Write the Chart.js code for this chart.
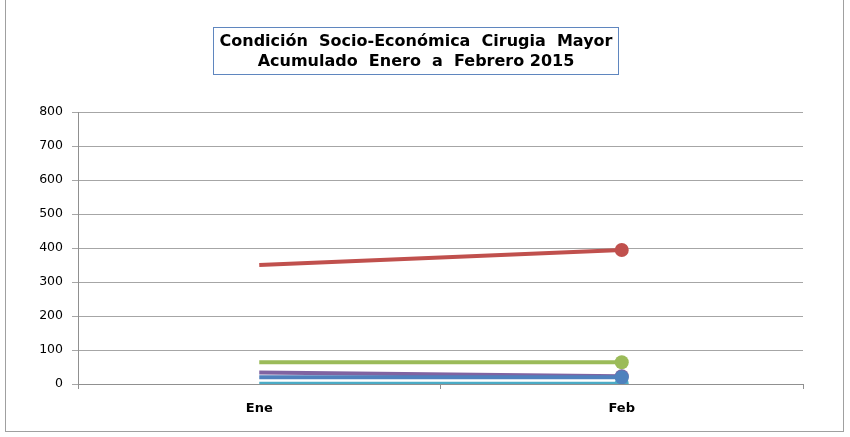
<!DOCTYPE html>
<html><head><meta charset="utf-8">
<script src="https://cdn.jsdelivr.net/npm/chart.js@4/dist/chart.umd.min.js"></script>
<style>
html,body{margin:0;padding:0;background:#fff;}
#wrap{position:relative;width:850px;height:437px;}
#frame{position:absolute;left:5px;top:-1px;width:839px;height:433px;border:1px solid #a0a0a0;box-sizing:border-box;pointer-events:none;}
#ttl{position:absolute;left:213px;top:27px;width:406px;height:48px;box-sizing:border-box;border:1px solid #5f86bf;
 font-family:"DejaVu Sans",Verdana,sans-serif;font-weight:bold;font-size:16px;line-height:20px;text-align:center;color:#000;padding-top:3px;white-space:pre;}
</style></head>
<body>
<div id="wrap">
<canvas id="c" width="850" height="437"></canvas>
<div id="frame"></div>
<div id="ttl">Condición  Socio-Económica  Cirugia  Mayor
Acumulado  Enero  a  Febrero 2015</div>
</div>
<script>
const categories = ["Ene", "Feb"];
const seriesBlue = [20, 20];
const seriesRed = [350, 394];
const seriesGreen = [64, 64];
const seriesPurple = [34, 23];
const seriesCyan = [1, 1];
const yTicks = [0, 100, 200, 300, 400, 500, 600, 700, 800];

function ds(data, color, order) {
  return {data: data, borderColor: color, backgroundColor: color, borderWidth: 4,
    pointRadius: [0, 7], pointHoverRadius: [0, 7], pointBorderWidth: 0, tension: 0, order: order};
}
new Chart(document.getElementById('c'), {
  type: 'line',
  data: {labels: categories, datasets: [
    ds(seriesCyan, '#4BACC6', 5),
    ds(seriesBlue, '#4F81BD', 1),
    ds(seriesPurple, '#8064A2', 2),
    ds(seriesGreen, '#9BBB59', 3),
    ds(seriesRed, '#C0504D', 4)
  ]},
  options: {
    responsive: false, animation: false,
    layout: {padding: {top: 112, right: 47, left: 0, bottom: 0}},
    plugins: {legend: {display: false}, title: {display: false}, tooltip: {enabled: false}},
    scales: {
      x: {offset: true,
        grid: {drawOnChartArea: false, drawTicks: true, tickLength: 5, color: '#909090', offset: true},
        border: {color: '#909090', width: 1},
        ticks: {font: {family: 'DejaVu Sans', size: 13, weight: 'bold'}, color: '#000', padding: 12},
        afterFit: s => { s.height = 53; }
      },
      y: {min: 0, max: 800,
        afterBuildTicks: s => { s.ticks = yTicks.map(v => ({value: v})); },
        grid: {color: '#a6a6a6', tickLength: 6, drawTicks: true},
        border: {color: '#909090', width: 1},
        ticks: {font: {family: 'DejaVu Sans', size: 12.5}, color: '#000', padding: 9},
        afterFit: s => { s.width = 78; }
      }
    }
  }
});
</script>
</body></html>
